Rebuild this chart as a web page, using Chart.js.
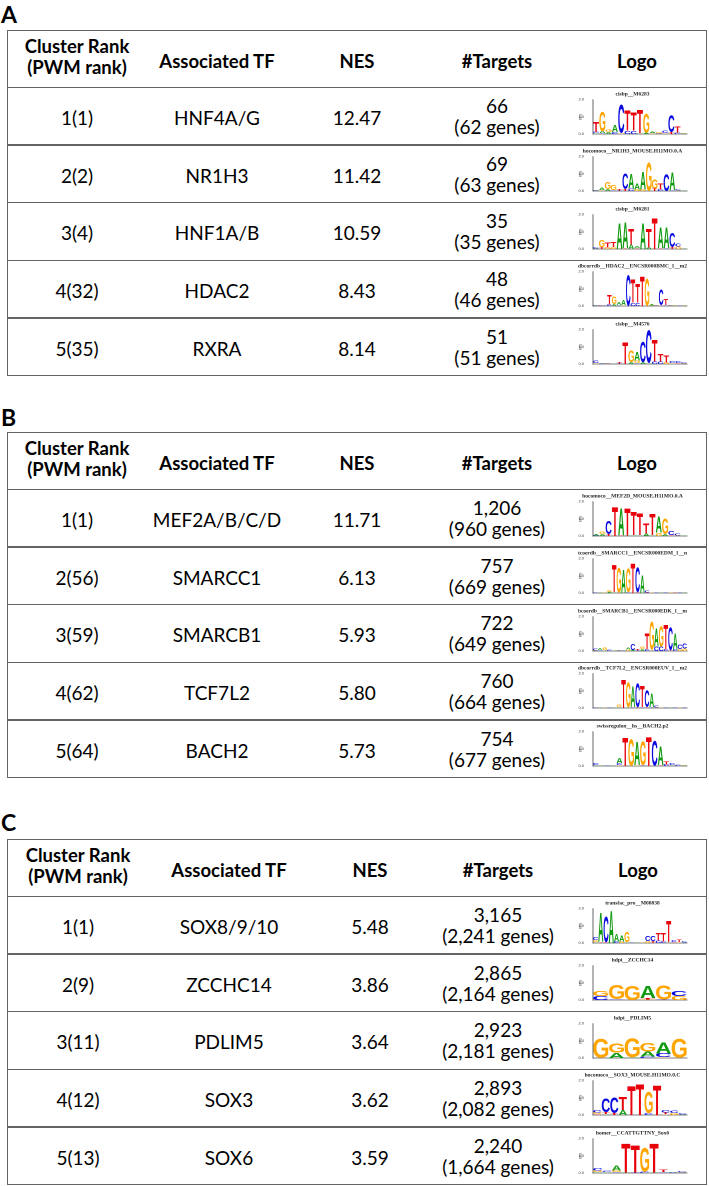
<!DOCTYPE html>
<html>
<head>
<meta charset="utf-8">
<script src="https://cdn.jsdelivr.net/npm/chart.js@4.4.1/dist/chart.umd.min.js"></script>
<style>
body{margin:0;background:#fff;color:#000;font-family:Lato,"Noto Sans",sans-serif}
#page{position:relative;width:709px;height:1186px;overflow:hidden}
.label{position:absolute;left:1px;font-weight:bold;font-size:23px;line-height:28px}
.box{position:absolute;left:7px;width:700px;box-sizing:border-box;border:1.5px solid #646464}
.sep{position:absolute;left:7px;width:700px;height:1.5px;background:#646464}
.cell{position:absolute;width:150px;display:flex;align-items:center;justify-content:center;text-align:center;box-sizing:border-box;white-space:nowrap}
.hd{font-weight:bold;font-size:18.5px;line-height:20.5px}
.bd{font-size:19px;line-height:21px}
canvas{position:absolute}
</style>
</head>
<body>
<div id="page"></div>
<script>
/* Panel A */
const rankA = ["1(1)", "2(2)", "3(4)", "4(32)", "5(35)"];
const tfA = ["HNF4A/G", "NR1H3", "HNF1A/B", "HDAC2", "RXRA"];
const nesA = [12.47, 11.42, 10.59, 8.43, 8.14];
const targetsA = [66, 69, 35, 48, 51];
const genesA = [62, 63, 35, 46, 51];
const motifA = ["cisbp__M6283", "hocomoco__NR1H3_MOUSE.H11MO.0.A", "cisbp__M6281",
  "dbcorrdb__HDAC2__ENCSR000BMC_1__m2", "cisbp__M4576"];

/* Panel B */
const rankB = ["1(1)", "2(56)", "3(59)", "4(62)", "5(64)"];
const tfB = ["MEF2A/B/C/D", "SMARCC1", "SMARCB1", "TCF7L2", "BACH2"];
const nesB = [11.71, 6.13, 5.93, 5.80, 5.73];
const targetsB = [1206, 757, 722, 760, 754];
const genesB = [960, 669, 649, 664, 677];
const motifB = ["hocomoco__MEF2D_MOUSE.H11MO.0.A", "tcoerdb__SMARCC1__ENCSR000EDM_1__n",
  "bcoerdb__SMARCB1__ENCSR000EDK_1__m", "dbcorrdb__TCF7L2__ENCSR000EUV_1__m2", "swissregulon__hs__BACH2.p2"];

/* Panel C */
const rankC = ["1(1)", "2(9)", "3(11)", "4(12)", "5(13)"];
const tfC = ["SOX8/9/10", "ZCCHC14", "PDLIM5", "SOX3", "SOX6"];
const nesC = [5.48, 3.86, 3.64, 3.62, 3.59];
const targetsC = [3165, 2865, 2923, 2893, 2240];
const genesC = [2241, 2164, 2181, 2082, 1664];
const motifC = ["transfac_pro__M08838", "hdpi__ZCCHC14", "hdpi__PDLIM5",
  "hocomoco__SOX3_MOUSE.H11MO.0.C", "homer__CCATTGTTNY_Sox6"];

/* Logos: one string per position, letter + height in bits */
const logoA1 = ["T.6 C.08 A.05","G1.15 A.1 C.05","G.15 A.1","A.4 C.12","C1.65 G.05","T1.15 C.2","T1.05 C.2",
  "T1.35 A.05","G1.1 A.08","A.08 G.05","G.06 C.04","C.15 G.05","C1.0 T.1","T.35 C.08","G.05 A.03"];
const logoA2 = ["C.05 A.04","A.15 G.05","G.42 A.12","G.3 C.05","T.06 C.04","C.9 T.1","A.85 C.15","A.35 G.1",
  "A1.0 G.1","G1.65","G.55 T.15","T.35 C.1","C1.0","A1.0 C.05","C.06 G.03","A.05"];
const logoA3 = ["C.06 A.04","G.4 T.1","T.3 G.1","T.28 G.12","A1.5","A1.5 T.05","T.9 A.25","A.1 T.05",
  "A1.5","T1.1 A.1","T1.8","A1.2 T.05","A1.2 C.05","C.85 T.1","C.2 G.15","A.05"];
const logoA4 = ["A.04 C.03","G.05 C.03","C.05","T.55 C.1","G.45 A.1","A.2 C.05","A.3 G.05","C1.8","T1.35 C.2",
  "T1.1 C.2","T1.75","G1.6","A.06 G.04","C.05 G.03","C.9 T.05","T.35 C.05","G.05 C.04","A.04 G.03","C.04","G.03 A.03"];
const logoA5 = ["C.15 G.05","A.05 C.04","C.04 G.03","A.04","T.06 C.04","T1.3","G.7 A.1","A.5 G.15 C.05",
  "C1.2 A.1","C1.9 A.05","T1.3 C.15","T.45 C.15","T.4 G.1","C.1 G.05","C.1 T.05","C.08 G.04"];

const logoB1 = ["A.06 C.03","G.15 A.1","C.75 T.12","T1.7","A1.6 T.03","T1.6 A.03","T1.35 A.05","T1.3 A.05",
  "T.6 A.15","T1.25 A.05","A.95 G.2","G.9 A.1","C.22 T.05","C.1 G.03","A.05"];
const logoB2 = ["C.03","A.03","G.04","G.12 A.06","T1.6 A.05","G1.45","A1.35","G1.4 C.05","T1.75","C1.45 T.05",
  "A1.0","C.12 T.04","G.04","C.03","A.03","C.03","G.03","T.03","C.03","A.03"];
const logoB3 = ["C.12 G.04","A.1 C.05","G.15 A.05","C.06","A.05","G.05 C.03","C.05","A.12 G.08","C.35 A.06",
  "T.08 C.04","G.15 A.1","T.95 C.1","G1.65 A.05","A1.05 C.25","G1.2 C.25","T1.45 C.1","C1.35 T.05",
  "A.95 C.1","C.25 G.1","C.3 G.15"];
const logoB4 = ["C.03","A.03","G.03","C.04","A.05","G.15 A.05","T1.65","G1.45 A.05","A1.2 C.05","C1.4 T.05",
  "T1.25 C.05","C1.0 T.05","A.8 C.05","C.1 G.04","G.05","C.03","A.03","C.03","G.03","C.03"];
const logoB5 = ["C.1 A.05","A.05","C.05","A.04","A.3 C.12 G.05","T1.65","G1.55","A1.35 G.05","G1.4 C.05",
  "T1.7","C1.45","A1.1 T.05","T.2 C.1","C.1 A.05","C.08","G.05 A.03"];

const logoC1 = ["C.2 G.12 A.05","A1.7 T.05","C1.5 T.05","A1.9","A.45 C.1","A.35 G.1","G.6 A.05","C.04","A.03",
  "G.03","C.3 G.1","C.3 T.1","T.45 C.15","T.5 C.1","T1.25 A.05","C.12 T.05","T.15 G.05","C.08 A.03"];
const logoC2 = ["G.3 C.22","G.82 C.04","G.82","A.72 T.08 G.04","G.82 C.03","C.3 G.22"];
const logoC3 = ["G1.1","G.55 A.3","G1.1 A.03","G.5 A.3 C.08","A.62 C.22 G.05","G1.1"];
const logoC4 = ["C.15 G.1 T.05","C.8 T.1 A.05","C.9 T.1","T.75 A.3","T1.7","T1.8","G1.25 C.1","T1.75",
  "C.15 T.1 G.05","C.15 G.1","C.06 A.04"];
const logoC5 = ["C.15 G.1 A.05","C.08 A.05","A.3 G.1 C.05","T1.7 A.03","T1.6 C.03","G1.4 C.08","T1.7 A.03",
  "T.15 C.05","A.04 C.03","C.06 G.03"];

/* Layout */
const panelNames = ["A", "B", "C"];
const labelTops = [0, 403, 808];
const tableTops = [30, 432, 839];
const headerH = 57.5, rowH = 57.6;
const colCenters = [[77, 217, 357, 497, 637], [77, 217, 357, 497, 637], [78, 229, 370, 498, 638]];
const NUC = {A: "#109a10", C: "#0a0ae0", G: "#ffa500", T: "#e8000b"};

const panels = [
  {rank: rankA, tf: tfA, nes: nesA, tg: targetsA, genes: genesA, motif: motifA, logos: [logoA1, logoA2, logoA3, logoA4, logoA5]},
  {rank: rankB, tf: tfB, nes: nesB, tg: targetsB, genes: genesB, motif: motifB, logos: [logoB1, logoB2, logoB3, logoB4, logoB5]},
  {rank: rankC, tf: tfC, nes: nesC, tg: targetsC, genes: genesC, motif: motifC, logos: [logoC1, logoC2, logoC3, logoC4, logoC5]}
];

const page = document.getElementById("page");
const fmt = n => n.toLocaleString("en-US");

function addDiv(cls, css, html){
  const d = document.createElement("div");
  d.className = cls;
  Object.assign(d.style, css);
  if(html !== undefined) d.innerHTML = html;
  page.appendChild(d);
  return d;
}

/* draws each letter stretched into its stacked bar */
const letterPlugin = {
  id: "letters",
  afterDatasetsDraw(chart){
    const ctx = chart.ctx;
    chart.data.datasets.forEach((ds, i) => {
      chart.getDatasetMeta(i).data.forEach((bar, j) => {
        const letter = ds.letters[j];
        if(!letter) return;
        const p = bar.getProps(["x", "y", "base", "width"], true);
        const h = p.base - p.y;
        if(h < 0.3) return;
        ctx.save();
        ctx.font = 'bold 100px "Liberation Sans", Arial, sans-serif';
        const m = ctx.measureText(letter);
        const gw = m.actualBoundingBoxLeft + m.actualBoundingBoxRight;
        const gh = m.actualBoundingBoxAscent + m.actualBoundingBoxDescent;
        ctx.translate(p.x - p.width / 2, p.y);
        ctx.scale(p.width / gw, h / gh);
        ctx.fillStyle = NUC[letter];
        ctx.textBaseline = "alphabetic";
        ctx.fillText(letter, m.actualBoundingBoxLeft, m.actualBoundingBoxAscent);
        ctx.restore();
      });
    });
  }
};

function drawLogo(top, cols, title){
  const canvas = document.createElement("canvas");
  canvas.width = 114;
  canvas.height = 55;
  canvas.style.left = "578px";
  canvas.style.top = (top + 1) + "px";
  page.appendChild(canvas);

  const parsed = cols.map(c => c.split(" ").map(s => ({l: s[0], h: parseFloat(s.slice(1))})).sort((a, b) => a.h - b.h));
  const datasets = [];
  for(let k = 0; k < 4; k++){
    datasets.push({
      data: parsed.map(p => p[k] ? p[k].h : 0),
      letters: parsed.map(p => p[k] ? p[k].l : ""),
      backgroundColor: "rgba(0,0,0,0)",
      barPercentage: 1,
      categoryPercentage: 0.96,
      stack: "logo"
    });
  }

  new Chart(canvas, {
    type: "bar",
    data: {labels: parsed.map((_, i) => String(i + 1)), datasets},
    options: {
      responsive: false,
      animation: false,
      devicePixelRatio: 2,
      layout: {padding: {right: 5, bottom: 2}},
      plugins: {
        legend: {display: false},
        tooltip: {enabled: false},
        title: {display: true, text: title, color: "#222",
          font: {family: '"Liberation Serif", serif', size: 5.5, weight: "bold"},
          padding: {top: 2, bottom: 2}}
      },
      scales: {
        x: {
          stacked: true,
          grid: {display: false},
          border: {color: "#000", width: 0.6},
          ticks: {autoSkip: false, maxRotation: 90, minRotation: 90, padding: 1, color: "#333",
            font: {size: 3.5}},
          afterFit(s){ s.height = 8; }
        },
        y: {
          stacked: true, min: 0, max: 2,
          grid: {display: false},
          border: {color: "#000", width: 0.6},
          ticks: {stepSize: 1, padding: 1, color: "#333", font: {size: 4}, callback: v => v.toFixed(1)},
          title: {display: true, text: "bits", font: {size: 4}, padding: 0, color: "#333"},
          afterFit(s){ s.width = 15; }
        }
      }
    },
    plugins: [letterPlugin]
  });
}

panels.forEach((pn, pi) => {
  const t0 = tableTops[pi];
  const cx = colCenters[pi];
  const height = headerH + rowH * 5;
  addDiv("label", {top: labelTops[pi] + "px"}, panelNames[pi]);
  addDiv("box", {top: t0 + "px", height: height + "px"});

  // header
  const heads = ["Cluster Rank<br>(PWM rank)", "Associated TF", "NES", "#Targets", "Logo"];
  heads.forEach((h, ci) => {
    const two = h.indexOf("<br>") >= 0;
    addDiv("cell hd", {left: (cx[ci] - 75) + "px", top: t0 + "px", height: headerH + "px",
      paddingTop: two ? "0" : "4px", paddingBottom: two ? "4px" : "0"}, h);
  });

  for(let r = 0; r < 5; r++){
    const top = t0 + headerH + r * rowH;
    addDiv("sep", {top: (top - 0.75) + "px"});
    const vals = [pn.rank[r], pn.tf[r], pn.nes[r].toFixed(2), fmt(pn.tg[r]) + "<br>(" + fmt(pn.genes[r]) + " genes)"];
    vals.forEach((v, ci) => {
      const two = ci === 3;
      addDiv("cell bd", {left: (cx[ci] - 75) + "px", top: top + "px", height: rowH + "px",
        paddingTop: two ? "0" : "2.7px"}, v);
    });
    drawLogo(top, pn.logos[r], pn.motif[r]);
  }
});
</script>
</body>
</html>
